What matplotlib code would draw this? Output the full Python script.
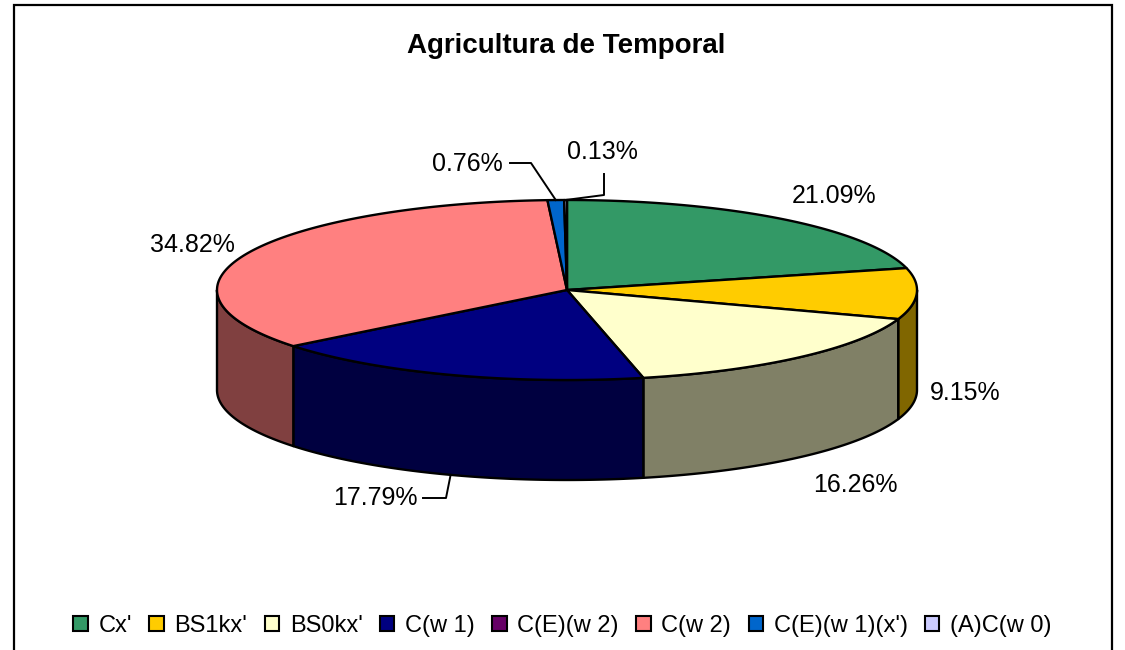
import numpy as np
import matplotlib
matplotlib.use("Agg")
import matplotlib.pyplot as plt
from matplotlib.patches import Polygon, Patch, Rectangle

plt.rcParams['font.family'] = ['Liberation Sans', 'DejaVu Sans']

categories = ["Cx'", "BS1kx'", "BS0kx'", "C(w 1)", "C(E)(w 2)", "C(w 2)",
              "C(E)(w 1)(x')", "(A)C(w 0)"]
shares = [21.09, 9.15, 16.26, 17.79, 0.0, 34.82, 0.76, 0.13]
colors = ['#339966', '#FFCC00', '#FFFFCC', '#000080', '#660066', '#FF8080',
          '#0066CC', '#CCCCFF']

# label baseline positions (pixels) and leader elbows, per slice
label_xy = [(834, 203), (965, 400), (855, 492), (375, 505), None,
            (192, 252), (467, 171), (602, 159)]
leaders = {3: [(423, 498), (446, 498)],
           6: [(510, 163), (531, 163)],
           7: [(604, 174), (604, 195)]}

# pie geometry in pixel units
cx, cy = 567, 290
a, b = 350, 90
depth = 100


def rim(theta, drop=0.0):
    t = np.radians(theta)
    return np.column_stack([cx + a * np.sin(t), cy - b * np.cos(t) + drop])


def shade(c, f=0.5):
    r, g, bl = matplotlib.colors.to_rgb(c)
    return (r * f, g * f, bl * f)


fig = plt.figure(figsize=(11.25, 6.5), dpi=100)
ax = fig.add_axes([0, 0, 1, 1])
ax.set_xlim(0, 1125)
ax.set_ylim(650, 0)
ax.axis('off')

total = sum(shares)
edges = np.concatenate([[0], np.cumsum(shares)]) / total * 360

# front walls first
for i, s in enumerate(shares):
    t1, t2 = max(edges[i], 90), min(edges[i + 1], 270)
    if s == 0 or t2 <= t1:
        continue
    th = np.linspace(t1, t2, 80)
    pts = np.vstack([rim(th), rim(th[::-1], depth)])
    ax.add_patch(Polygon(pts, closed=True, facecolor=shade(colors[i]),
                         edgecolor='black', lw=1.7, joinstyle='round'))

# top faces
for i, s in enumerate(shares):
    if s == 0:
        continue
    th = np.linspace(edges[i], edges[i + 1], max(int(s * 4), 4))
    pts = np.vstack([[cx, cy], rim(th)])
    ax.add_patch(Polygon(pts, closed=True, facecolor=colors[i],
                         edgecolor='black', lw=1.7, joinstyle='round'))

# percentage labels
for i, s in enumerate(shares):
    if label_xy[i] is None:
        continue
    x, y = label_xy[i]
    ax.text(x, y, f"{s:.2f}%", ha='center', va='baseline', fontsize=18)
    elbow = leaders.get(i)
    if elbow:
        mid = (edges[i] + edges[i + 1]) / 2
        drop = depth if 90 < mid < 270 else 0
        anchor = rim([mid], drop)[0]
        xs = [p[0] for p in elbow] + [anchor[0]]
        ys = [p[1] for p in elbow] + [anchor[1]]
        ax.plot(xs, ys, color='black', lw=1.4)

ax.text(566, 53, 'Agricultura de Temporal', ha='center', va='baseline',
        fontsize=20, fontweight='bold')

handles = [Patch(facecolor=c, edgecolor='black', lw=1.5) for c in colors]
fig.legend(handles, categories, loc='center', bbox_to_anchor=(0.5, 1 - 626 / 650),
           ncol=8, frameon=False, fontsize=17, handlelength=0.6,
           handleheight=0.6, handletextpad=0.45, columnspacing=0.75)

fig.patches.append(Rectangle((14 / 1125, -0.1), (1112 - 14) / 1125, 1.1 - 5 / 650,
                             transform=fig.transFigure, fill=False,
                             edgecolor='black', lw=1.6))

fig.savefig('out.png', dpi=100)
